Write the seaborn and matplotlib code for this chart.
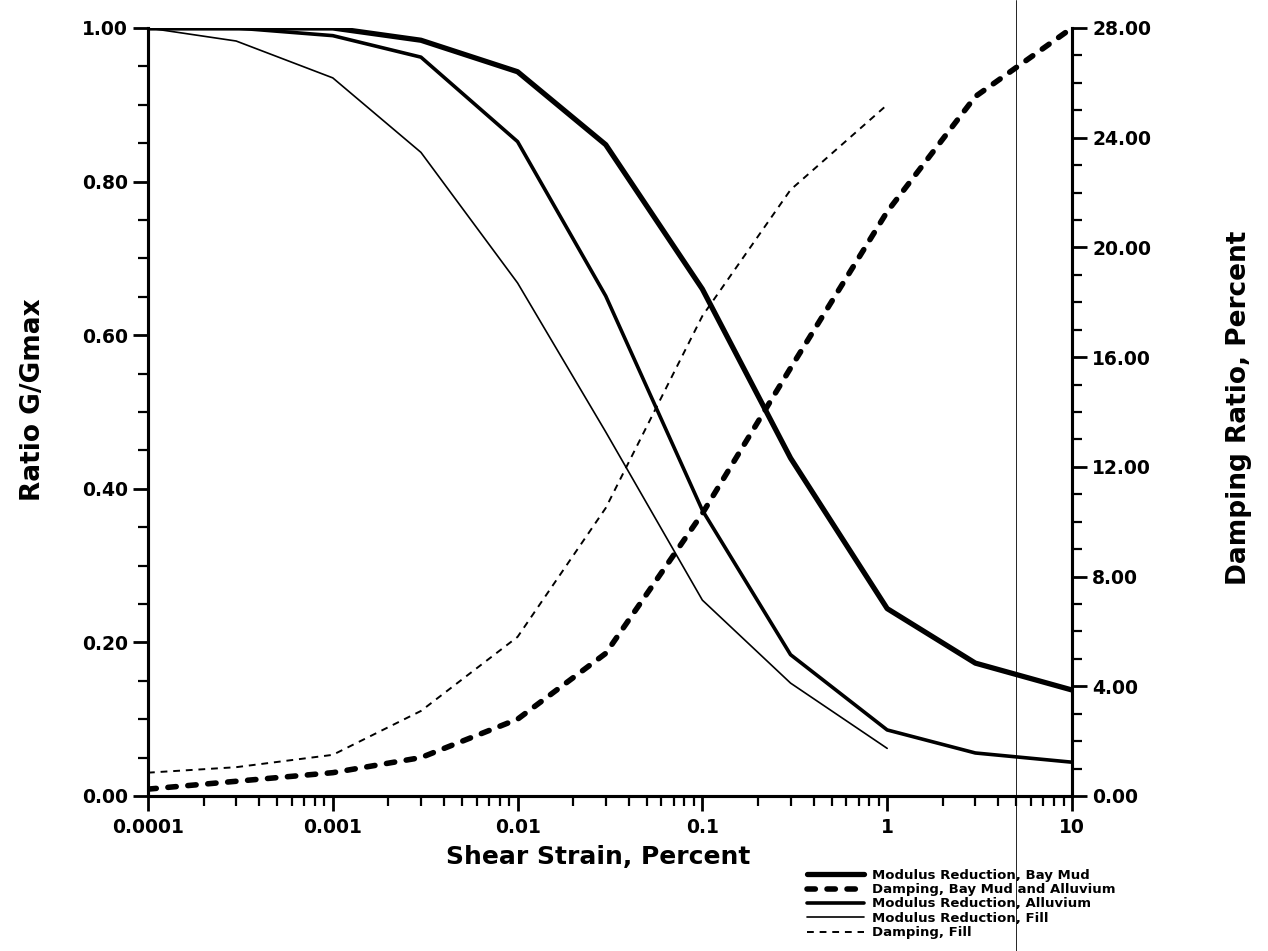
import numpy as np
import pandas as pd
import matplotlib
matplotlib.use("Agg")
import matplotlib.pyplot as plt
from matplotlib.ticker import MultipleLocator, FixedLocator, FixedFormatter, LogLocator, NullFormatter
import seaborn as sns

# Datos
deformacion = [0.0001, 0.0003, 0.001, 0.003, 0.01, 0.03, 0.1, 0.3, 1, 3, 10]
mod_bay_mud = [1.00, 1.00, 1.00, 0.984, 0.943, 0.848, 0.66, 0.44, 0.244, 0.173, 0.138]
mod_aluvion = [1.00, 1.00, 0.99, 0.962, 0.852, 0.651, 0.372, 0.184, 0.086, 0.056, 0.044]

deformacion_fill = [0.0001, 0.0003, 0.001, 0.003, 0.01, 0.03, 0.1, 0.3, 1]
mod_fill = [1.00, 0.983, 0.935, 0.838, 0.668, 0.474, 0.255, 0.147, 0.062]
amort_fill = [0.85, 1.05, 1.5, 3.1, 5.8, 10.5, 17.5, 22.1, 25.2]

deformacion_amort = [0.0001, 0.001, 0.003, 0.01, 0.03, 0.1, 0.3, 1, 3, 10]
amort_bay_mud = [0.25, 0.85, 1.4, 2.8, 5.2, 10.3, 15.6, 21.3, 25.5, 28.0]

etiquetas_x = ['0.0001', '0.001', '0.01', '0.1', '1', '10']
valores_x = [0.0001, 0.001, 0.01, 0.1, 1, 10]
ticks_izq = [0.0, 0.2, 0.4, 0.6, 0.8, 1.0]
ticks_der = [0, 4, 8, 12, 16, 20, 24, 28]

sns.set_style("ticks")
plt.rcParams['font.family'] = ['DejaVu Sans']
plt.rcParams['font.weight'] = 'bold'

fig = plt.figure(figsize=(12.68, 9.51), dpi=100)
ax = fig.add_axes([0.1167, 0.163, 0.7287, 0.8076])
ax2 = ax.twinx()

df_mud = pd.DataFrame({'x': deformacion, 'y': mod_bay_mud})
df_alu = pd.DataFrame({'x': deformacion, 'y': mod_aluvion})
df_fill = pd.DataFrame({'x': deformacion_fill, 'y': mod_fill})
df_dfill = pd.DataFrame({'x': deformacion_fill, 'y': amort_fill})
df_dmud = pd.DataFrame({'x': deformacion_amort, 'y': amort_bay_mud})

sns.lineplot(data=df_mud, x='x', y='y', ax=ax, color='black', lw=3.8)
sns.lineplot(data=df_alu, x='x', y='y', ax=ax, color='black', lw=2.6)
sns.lineplot(data=df_fill, x='x', y='y', ax=ax, color='black', lw=1.2)
sns.lineplot(data=df_dmud, x='x', y='y', ax=ax2, color='black', lw=4.0)
sns.lineplot(data=df_dfill, x='x', y='y', ax=ax2, color='black', lw=1.4)

lines_mod = ax.get_lines()
lines_dmp = ax2.get_lines()
lines_dmp[0].set_dashes([1.5, 2.1])
lines_dmp[0].set_dash_capstyle('round')
lines_dmp[1].set_dashes([3.5, 3])

ax.set_xscale('log')
ax.set_xlim(0.0001, 10)

ax.xaxis.set_major_locator(FixedLocator(valores_x))
ax.xaxis.set_major_formatter(FixedFormatter(etiquetas_x))
ax.xaxis.set_minor_locator(LogLocator(base=10, subs=np.arange(2, 10)))
ax.xaxis.set_minor_formatter(NullFormatter())

ax.set_yticks(ticks_izq)
ax.set_yticklabels([f'{v:.2f}' for v in ticks_izq])
ax.yaxis.set_minor_locator(MultipleLocator(0.05))
ax2.set_yticks(ticks_der)
ax2.set_yticklabels([f'{v:.2f}' for v in ticks_der])
ax2.yaxis.set_minor_locator(MultipleLocator(1))
ax.set_ylim(0, 1.0)
ax2.set_ylim(0, 28)

for a in (ax, ax2):
    a.tick_params(which='major', length=11, width=2, labelsize=13.5, direction='out',
                  color='black', labelcolor='black')
    a.tick_params(which='minor', length=7, width=1.6, direction='out', color='black')
    a.spines['top'].set_visible(False)
    for s in a.spines.values():
        s.set_linewidth(2.2)
        s.set_color('black')
ax.tick_params(axis='x', which='major', pad=5)

ax.set_xlabel('Shear Strain, Percent', fontsize=18, fontweight='bold', color='black')
ax.xaxis.set_label_coords(0.487, -0.064)
ax.set_ylabel('Ratio G/Gmax', fontsize=19, fontweight='bold', labelpad=26, color='black')
ax.yaxis.label.set_y(0.516)
ax2.set_ylabel('Damping Ratio, Percent', fontsize=19, fontweight='bold', labelpad=54, color='black')
ax2.yaxis.label.set_y(0.506)

# linea vertical del escaneo
fig.add_artist(plt.Line2D([0.8013, 0.8013], [0, 1], transform=fig.transFigure, color='black', lw=0.6))

handles = [lines_mod[0], lines_dmp[0], lines_mod[1], lines_mod[2], lines_dmp[1]]
labels = ['Modulus Reduction, Bay Mud', 'Damping, Bay Mud and Alluvium',
          'Modulus Reduction, Alluvium', 'Modulus Reduction, Fill', 'Damping, Fill']
leg = fig.legend(handles, labels, loc='lower left', bbox_to_anchor=(0.627, 0.0), frameon=False,
                 fontsize=9.5, handlelength=4.3, labelspacing=0.1, handletextpad=0.6)
for t in leg.get_texts():
    t.set_color('black')

fig.savefig('out.png', dpi=100)
